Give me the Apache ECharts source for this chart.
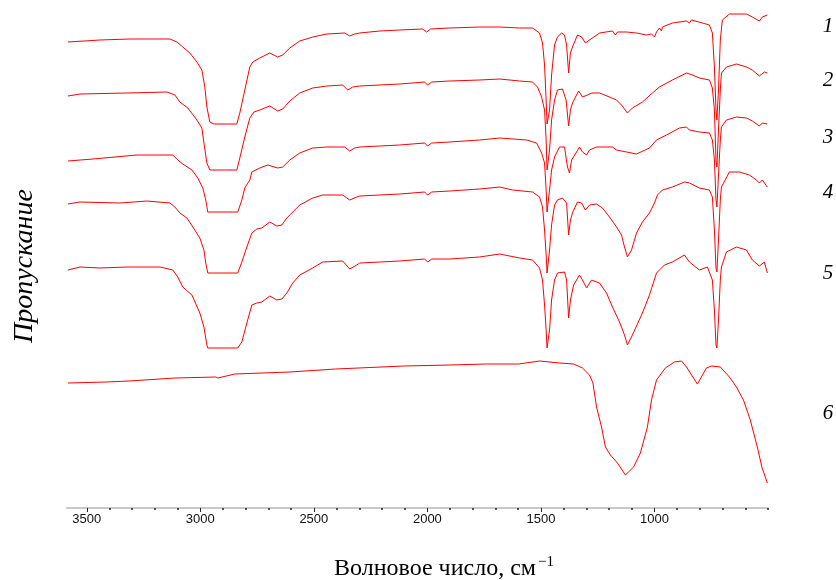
<!DOCTYPE html>
<html>
<head>
<meta charset="utf-8">
<script src="https://cdn.jsdelivr.net/npm/echarts@6/dist/echarts.min.js"></script>
<style>
html,body{margin:0;padding:0;background:#fff;}
#chart{width:836px;height:580px;}
</style>
</head>
<body>
<div id="chart"></div>
<script>
// Wavenumber (cm-1) vs. transmittance (arbitrary, stacked offsets)
const majorTicks = [1000, 1500, 2000, 2500, 3000, 3500];
const minorTicks = [500, 600, 700, 800, 900, 1100, 1200, 1300, 1400, 1600, 1700, 1800, 1900, 2100, 2200, 2300, 2400, 2600, 2700, 2800, 2900, 3100, 3200, 3300, 3400];
const curveLabels = ['1', '2', '3', '4', '5', '6'];

const spec1 = [[3583,466],[3442,468],[3310,469],[3134,469],[3103,466],[3077,461],[3046,455],[3015,446],[2993,438],[2980,421],[2971,401],[2958,386],[2940,384],[2839,384],[2826,395],[2804,418],[2782,441],[2769,446],[2738,450],[2694,455],[2659,451],[2637,453],[2606,460],[2562,467],[2505,471],[2443,474],[2364,475],[2342,472],[2320,474],[2298,475],[2210,477],[2122,478],[2021,479],[2003,476],[1986,479],[1902,480],[1770,481],[1682,481],[1594,480],[1537,480],[1506,475],[1493,465],[1484,443],[1477,408],[1473,384],[1466,386],[1462,398],[1453,433],[1440,463],[1427,471],[1409,475],[1396,473],[1387,463],[1378,435],[1370,455],[1361,461],[1339,473],[1321,471],[1304,465],[1286,468],[1242,475],[1185,477],[1172,473],[1163,476],[1123,476],[1079,475],[1035,473],[1013,474],[1000,471],[991,476],[978,480],[969,477],[965,481],[921,485],[859,487],[846,485],[837,488],[789,485],[758,483],[745,475],[736,441],[729,398],[725,388],[718,418],[710,468],[701,488],[670,494],[595,494],[569,491],[538,487],[525,491],[503,493]];

const spec2 = [[3583,412],[3530,414],[3323,415],[3147,416],[3112,413],[3090,406],[3055,400],[3015,388],[2993,380],[2984,365],[2971,345],[2958,338],[2839,338],[2826,350],[2804,371],[2782,390],[2764,396],[2738,398],[2694,402],[2659,397],[2637,399],[2606,407],[2562,415],[2505,420],[2443,422],[2373,423],[2351,418],[2329,421],[2298,422],[2210,423],[2122,424],[2012,426],[1999,423],[1981,426],[1902,427],[1770,428],[1682,429],[1594,427],[1537,426],[1515,421],[1497,411],[1484,398],[1477,368],[1473,338],[1466,340],[1462,358],[1453,388],[1440,408],[1427,418],[1405,419],[1389,408],[1378,382],[1370,398],[1361,405],[1334,417],[1317,411],[1295,413],[1277,415],[1242,415],[1198,411],[1167,408],[1145,403],[1119,395],[1097,400],[1053,406],[1009,415],[978,421],[921,428],[859,435],[833,433],[802,430],[758,428],[745,420],[736,398],[729,348],[725,341],[718,378],[710,418],[705,435],[683,441],[639,444],[595,441],[569,438],[538,432],[516,436],[503,435]];

const spec3 = [[3583,347],[3473,349],[3279,353],[3121,353],[3099,348],[3077,344],[3037,338],[3011,330],[2989,320],[2976,308],[2967,296],[2835,296],[2817,308],[2804,320],[2782,328],[2773,336],[2738,340],[2703,343],[2659,340],[2637,341],[2606,348],[2562,355],[2505,360],[2443,361],[2364,361],[2342,357],[2320,360],[2298,361],[2210,362],[2122,363],[2012,365],[1999,362],[1981,365],[1902,366],[1770,368],[1682,370],[1563,368],[1519,365],[1497,355],[1484,345],[1477,318],[1473,296],[1466,298],[1462,318],[1453,338],[1440,351],[1418,361],[1396,361],[1383,341],[1374,335],[1365,348],[1343,356],[1330,361],[1317,356],[1299,353],[1286,358],[1255,361],[1185,361],[1167,358],[1123,356],[1079,354],[1022,360],[991,368],[947,373],[890,380],[859,381],[846,378],[802,376],[758,375],[745,368],[736,348],[729,308],[725,301],[718,333],[710,368],[705,381],[683,388],[639,391],[595,390],[569,387],[538,382],[525,385],[503,384]];

const spec4 = [[3583,304],[3530,306],[3354,305],[3235,307],[3134,305],[3112,301],[3090,295],[3059,290],[3033,281],[3002,270],[2984,258],[2976,245],[2967,235],[2835,235],[2817,246],[2795,261],[2773,275],[2751,279],[2729,280],[2694,286],[2663,282],[2641,283],[2619,290],[2584,298],[2562,303],[2505,310],[2461,313],[2373,313],[2342,308],[2311,311],[2298,312],[2210,313],[2122,314],[2012,316],[1999,313],[1981,316],[1902,317],[1770,319],[1682,321],[1625,318],[1537,316],[1506,311],[1493,301],[1484,278],[1477,253],[1473,235],[1466,237],[1462,258],[1453,283],[1440,303],[1427,308],[1405,310],[1387,305],[1378,273],[1370,288],[1361,295],[1339,306],[1321,305],[1304,298],[1286,303],[1255,304],[1229,300],[1198,291],[1167,281],[1145,273],[1132,261],[1119,251],[1101,258],[1079,275],[1053,286],[1022,295],[1000,305],[987,313],[965,318],[921,321],[868,326],[846,325],[802,320],[758,318],[745,311],[736,278],[729,240],[725,236],[718,268],[710,308],[705,321],[670,336],[626,336],[582,333],[551,328],[538,325],[525,328],[503,321]];

const spec5 = [[3583,238],[3530,241],[3442,240],[3323,241],[3266,241],[3178,241],[3121,238],[3099,231],[3077,221],[3037,213],[3002,195],[2984,181],[2971,163],[2967,160],[2835,160],[2817,166],[2795,185],[2773,203],[2751,205],[2729,206],[2694,212],[2663,208],[2641,209],[2619,215],[2593,225],[2562,233],[2505,240],[2461,246],[2373,247],[2342,239],[2311,243],[2298,245],[2210,246],[2122,247],[2012,249],[1999,246],[1981,249],[1902,249],[1770,251],[1682,254],[1594,250],[1537,248],[1506,240],[1493,228],[1484,203],[1477,178],[1473,160],[1466,162],[1462,178],[1453,208],[1440,228],[1427,235],[1396,236],[1387,228],[1378,190],[1370,208],[1356,223],[1330,233],[1317,228],[1299,220],[1277,228],[1242,225],[1211,215],[1185,201],[1154,186],[1132,173],[1119,163],[1097,173],[1053,195],[1022,213],[991,235],[956,243],[921,246],[868,253],[846,246],[802,238],[767,241],[745,228],[736,198],[729,163],[725,160],[718,188],[710,228],[705,241],[683,256],[639,261],[595,258],[569,248],[538,242],[516,246],[503,235]];

const spec6 = [[3583,125],[3416,126],[3314,127],[3112,130],[2932,131],[2923,130],[2848,134],[2606,136],[2404,139],[2104,142],[1902,143],[1739,144],[1598,144],[1506,147],[1418,145],[1356,144],[1317,140],[1286,133],[1271,125],[1255,101],[1233,81],[1216,61],[1194,53],[1163,45],[1128,33],[1092,41],[1062,55],[1031,81],[1013,108],[991,128],[952,140],[912,146],[881,147],[859,141],[811,124],[771,140],[749,142],[710,141],[670,131],[639,121],[608,108],[578,88],[547,61],[527,41],[503,25]];

const spectra = [spec1, spec2, spec3, spec4, spec5, spec6];
const labelY = [26, 80, 137, 192, 273, 413];

const chart = echarts.init(document.getElementById('chart'));
const series = spectra.map((d, i) => ({
  type: 'line',
  name: curveLabels[i],
  data: d,
  showSymbol: false,
  symbol: 'none',
  smooth: false,
  silent: true,
  lineStyle: { color: '#ff0000', width: 1 }
}));

const graphics = curveLabels.map((t, i) => ({
  type: 'text',
  x: 828,
  y: labelY[i],
  style: {
    text: t,
    font: 'italic 21px "Liberation Serif", "DejaVu Serif", serif',
    fill: '#000',
    align: 'center',
    verticalAlign: 'middle'
  }
}));
graphics.push({
  type: 'text',
  x: 25,
  y: 266,
  rotation: Math.PI / 2,
  style: {
    text: 'Пропускание',
    font: 'italic 28px "Liberation Serif", "DejaVu Serif", serif',
    fill: '#000',
    align: 'center',
    verticalAlign: 'middle'
  }
});
graphics.push({
  type: 'text',
  x: 536,
  y: 569,
  style: {
    text: 'Волновое число, см',
    font: '24px "Liberation Serif", "DejaVu Serif", serif',
    fill: '#000',
    align: 'right',
    verticalAlign: 'middle'
  }
});
graphics.push({
  type: 'text',
  x: 538,
  y: 562,
  style: {
    text: '\u22121',
    font: '15px "Liberation Serif", "DejaVu Serif", serif',
    fill: '#000',
    align: 'left',
    verticalAlign: 'middle'
  }
});

chart.setOption({
  animation: false,
  backgroundColor: '#ffffff',
  grid: { left: 67, right: 68, top: 0, bottom: 72, containLabel: false },
  xAxis: [
    {
      type: 'value',
      inverse: true,
      min: 500,
      max: 3587,
      axisLine: { show: true, lineStyle: { color: '#c8c8c8', width: 2 } },
      axisTick: { show: true, customValues: majorTicks, length: 4, lineStyle: { color: '#222', width: 1 } },
      axisLabel: {
        show: true,
        customValues: majorTicks,
        formatter: function (v) { return String(v); },
        margin: 5,
        color: '#111',
        fontSize: 13,
        fontFamily: '"Liberation Sans", Arial, sans-serif'
      },
      splitLine: { show: false }
    },
    {
      type: 'value',
      inverse: true,
      position: 'bottom',
      min: 500,
      max: 3587,
      axisLine: { show: true, lineStyle: { color: 'rgba(0,0,0,0)', width: 1 } },
      axisTick: { show: true, customValues: minorTicks, length: 2, lineStyle: { color: '#222', width: 1.5 } },
      axisLabel: { show: false },
      splitLine: { show: false }
    }
  ],
  yAxis: {
    type: 'value',
    min: 0,
    max: 508,
    show: false,
    splitLine: { show: false }
  },
  series: series,
  graphic: graphics
});
</script>
</body>
</html>
